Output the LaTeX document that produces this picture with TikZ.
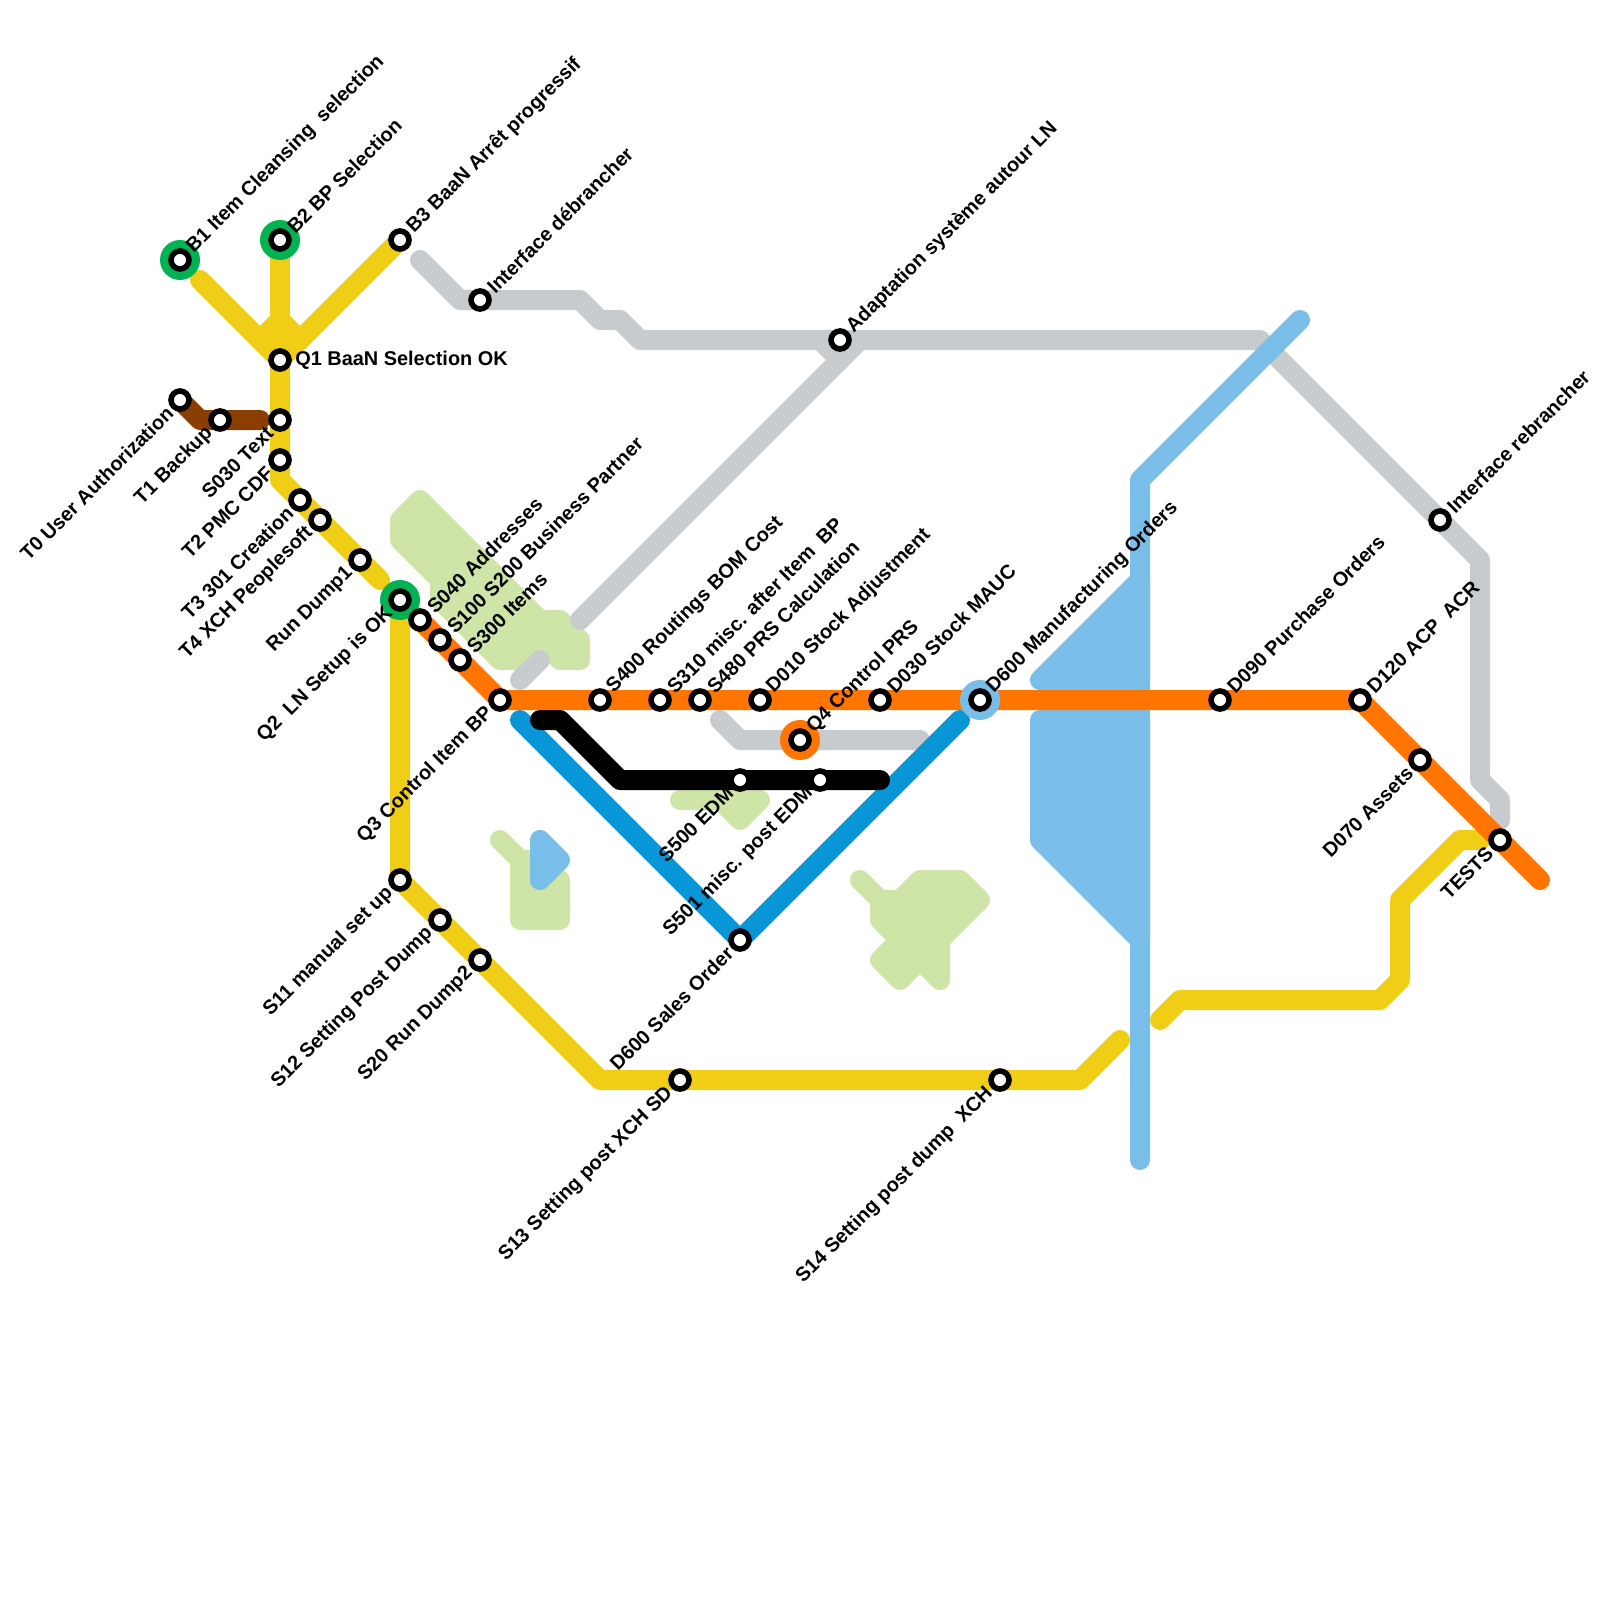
\documentclass[tikz,border=0pt]{standalone}
\usepackage{fontspec}
\setmainfont{Liberation Sans}
\pgfdeclarelayer{lines}
\pgfsetlayers{lines,main}
\definecolor{cyellow}{HTML}{F0CE15}
\definecolor{corange}{HTML}{FF7500}
\definecolor{clblue}{HTML}{79BDE9}
\definecolor{cdblue}{HTML}{0896D7}
\definecolor{cgreen}{HTML}{00B251}
\definecolor{cbrown}{HTML}{8A3E00}
\definecolor{cgrey}{HTML}{C8CBCD}
\definecolor{clgreen}{HTML}{CFE4A7}
\tikzset{
  stn/.style={circle,draw=black,fill=white,line width=2.8pt,minimum size=9pt,inner sep=0pt},
  ringdisc/.style={circle,fill=#1,minimum size=20pt,inner sep=0pt},
  lbl/.style={font=\bfseries\fontsize{9.95pt}{11pt}\selectfont,inner sep=0pt,text=black},
  lblur/.style={lbl,rotate=45,anchor=west},
  lblll/.style={lbl,rotate=45,anchor=east},
  metro/.style={line width=10pt,line cap=round,line join=round,draw=#1},
  blob/.style={line width=10pt,line cap=round,line join=round,draw=#1,fill=#1},
}
\newcommand{\stUR}[4]{\node[stn] (#1) at (#2,#3) {};\node[lblur] (#1-t) at ([shift={(10,-10)}]#1.center) {#4};}
\newcommand{\stLL}[4]{\node[stn] (#1) at (#2,#3) {};\node[lblll] (#1-t) at ([shift={(-10,10)}]#1.center) {#4};}
\begin{document}
\begin{tikzpicture}[x=0.5pt,y=-0.5pt]
\useasboundingbox (0,0) rectangle (1600,1600);
% interchange discs
\node[ringdisc=cgreen] (rB1) at (180,260) {};
\node[ringdisc=cgreen] (rB2) at (280,240) {};
\node[ringdisc=cgreen] (rQ2) at (400,600) {};
\node[ringdisc=corange] (rQ4) at (800,740) {};
\node[ringdisc=clblue] (rD600) at (980,700) {};
% stations and labels
\stUR{B1}{180}{260}{B1 Item Cleansing~ selection}
\stUR{B2}{280}{240}{B2 BP Selection}
\stUR{B3}{400}{240}{B3 BaaN Arrêt progressif}
\stUR{Ifd}{480}{300}{Interface débrancher}
\node[stn] (Q1) at (280,360) {};
\node[lbl,anchor=west] (Q1-t) at (295,360) {Q1 BaaN Selection OK};
\stLL{T0}{180}{400}{T0 User Authorization}
\stLL{T1}{220}{420}{T1 Backup}
\stLL{S030}{280}{420}{S030 Text}
\stLL{T2}{280}{460}{T2 PMC CDF}
\stLL{T3}{300}{500}{T3 301 Creation}
\stLL{T4}{320}{520}{T4 XCH Peoplesoft}
\stLL{RD1}{360}{560}{Run Dump1}
\stLL{Q2}{400}{600}{Q2~ LN Setup is OK}
\stUR{S040}{420}{620}{S040 Addresses}
\stUR{S100}{440}{640}{S100 S200 Business Partner}
\stUR{S300}{460}{660}{S300 Items}
\stLL{Q3}{500}{700}{Q3 Control Item BP}
\stUR{S400}{600}{700}{S400 Routings BOM Cost}
\stUR{S310}{660}{700}{S310 misc. after Item~ BP}
\stUR{S480}{700}{700}{S480 PRS Calculation}
\stUR{D010}{760}{700}{D010 Stock Adjustment}
\stUR{Q4}{800}{740}{Q4 Control PRS}
\stUR{D030}{880}{700}{D030 Stock MAUC}
\stUR{D600M}{980}{700}{D600 Manufacturing Orders}
\stUR{D090}{1220}{700}{D090 Purchase Orders}
\stUR{D120}{1360}{700}{D120 ACP~ ACR}
\stLL{D070}{1420}{760}{D070 Assets}
\stUR{Ifr}{1440}{520}{Interface rebrancher}
\stLL{TESTS}{1500}{840}{TESTS}
\stUR{Adp}{840}{340}{Adaptation système autour LN}
\stLL{S500}{740}{780}{S500 EDM}
\stLL{S501}{820}{780}{S501 misc. post EDM}
\stLL{D600S}{740}{940}{D600 Sales Order}
\stLL{S11}{400}{880}{S11 manual set up}
\stLL{S12}{440}{920}{S12 Setting Post Dump}
\stLL{S20}{480}{960}{S20 Run Dump2}
\stLL{S13}{680}{1080}{S13 Setting post XCH SD}
\stLL{S14}{1000}{1080}{S14 Setting post dump~ XCH}
% free ends of lines
\coordinate (yA) at (200,280);
\coordinate (yJ) at (280,320);
\coordinate (yB) at (380,580);
\coordinate (yC) at (1120,1040);
\coordinate (yD) at (1160,1020);
\coordinate (yE) at (1480,840);
\coordinate (bA) at (540,720);
\coordinate (bB) at (880,780);
\coordinate (oE) at (1540,880);
\coordinate (dA) at (520,720);
\coordinate (dB) at (960,720);
\coordinate (lA) at (1300,320);
\coordinate (lB) at (1140,1160);
\coordinate (gA) at (420,260);
\coordinate (gB) at (1500,820);
\coordinate (gC) at (580,620);
\coordinate (gD) at (860,340);
\coordinate (gE) at (820,340);
\coordinate (gF) at (840,360);
\coordinate (gG) at (520,680);
\coordinate (gH) at (540,660);
\coordinate (gI) at (720,720);
\coordinate (gJ) at (920,740);
\coordinate (brE) at (260,420);
\begin{pgfonlayer}{lines}
% pale green blobs
\path[blob=clgreen] (420,500)--(540,620)--(560,620)--(580,640)--(580,660)--(560,660)--(540,640)--(520,660)--(500,660)--(440,600)--(440,580)--(400,540)--(400,520)--cycle;
\path[blob=clgreen] (500,840)--(520,860)--(520,920)--(560,920)--(560,880)--(540,860)--(520,860);
\path[blob=clgreen] (680,800)--(760,800)--(740,820)--(720,800)--cycle;
\path[blob=clgreen] (860,880)--(880,900)--(880,920)--(900,940)--(880,960)--(900,980)--(920,960)--(940,980)--(940,940)--(980,900)--(960,880)--(920,880)--(900,900)--(880,900);
% pale blue
\path[blob=clblue] (1040,680)--(1140,580)--(1140,680)--cycle;
\path[blob=clblue] (1040,720)--(1140,720)--(1140,940)--(1040,840)--cycle;
\path[blob=clblue] (540,840)--(560,860)--(540,880)--cycle;
% grey
\draw[metro=cgrey] (gA)--(460,300)--(Ifd.center)--(580,300)--(600,320)--(620,320)--(640,340)--(Adp.center)--(1260,340)--(Ifr.center)--(1480,560)--(1480,780)--(1500,800)--(gB);
\draw[metro=cgrey] (gC)--(gD);
\draw[metro=cgrey] (gE)--(gF);
\draw[metro=cgrey] (gG)--(gH);
\draw[metro=cgrey] (gI)--(740,740)--(Q4.center)--(gJ);
% pale blue line
\draw[metro=clblue] (lA)--(1140,480)--(lB);
% brown
\draw[metro=cbrown] (T0.center)--(200,420)--(T1.center)--(brE);
% yellow
\draw[metro=cyellow] (yA)--(Q1.center);
\draw[metro=cyellow] (B2.center)--(Q1.center);
\draw[metro=cyellow] (B3.center)--(Q1.center);
\draw[metro=cyellow] (260,340)--(yJ)--(300,340);
\draw[metro=cyellow] (Q1.center)--(S030.center)--(T2.center)--(280,480)--(T3.center)--(T4.center)--(RD1.center)--(yB);
\draw[metro=cyellow] (Q2.center)--(S11.center)--(S12.center)--(S20.center)--(600,1080)--(S13.center)--(S14.center)--(1080,1080)--(yC);
\draw[metro=cyellow] (yD)--(1180,1000)--(1380,1000)--(1400,980)--(1400,900)--(1460,840)--(yE);
% dark blue
\draw[metro=cdblue] (dA)--(D600S.center)--(dB);
% black
\draw[metro=black] (bA)--(560,720)--(620,780)--(S500.center)--(S501.center)--(bB);
% orange
\draw[metro=corange] (S040.center)--(S100.center)--(S300.center)--(Q3.center)--(S400.center)--(S310.center)--(S480.center)--(D010.center)--(D030.center)--(D600M.center)--(D090.center)--(D120.center)--(D070.center)--(TESTS.center)--(oE);
\end{pgfonlayer}
\end{tikzpicture}
\end{document}
